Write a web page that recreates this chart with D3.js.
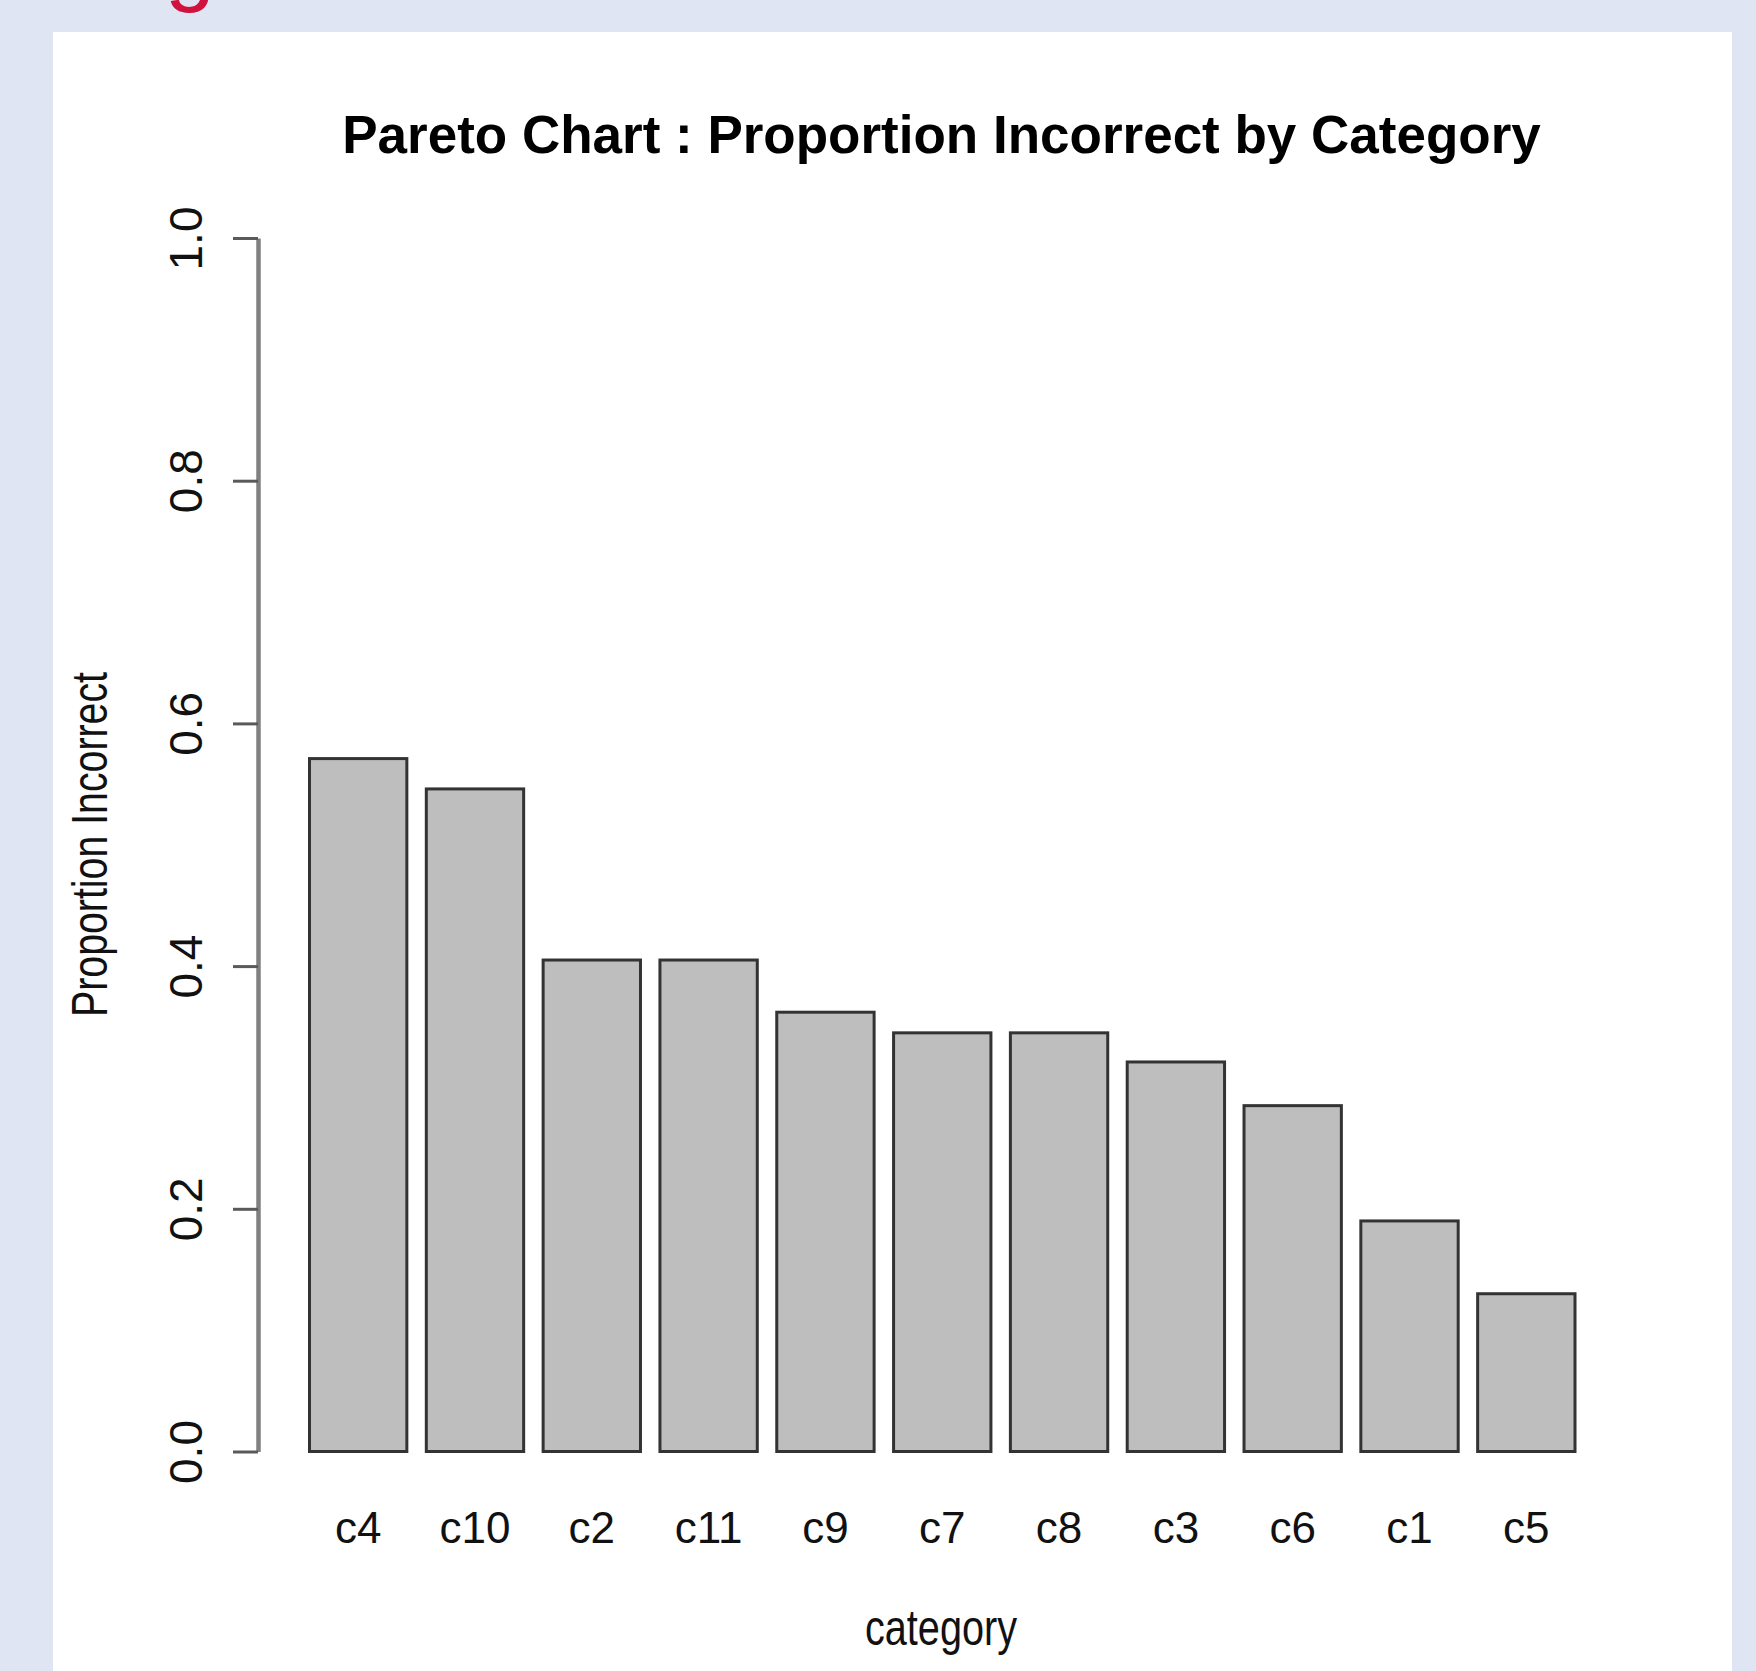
<!DOCTYPE html>
<html>
<head>
<meta charset="utf-8">
<script src="https://cdn.jsdelivr.net/npm/d3@7"></script>
<style>
  html, body { margin: 0; padding: 0; background: #dfe5f2; }
  svg { display: block; }
  text { font-family: "Liberation Sans", Arial, Helvetica, sans-serif; }
</style>
</head>
<body>
<script>
// Pareto ordering: categories sorted by proportion incorrect, largest first
const categories = ["c4", "c10", "c2", "c11", "c9", "c7", "c8", "c3", "c6", "c1", "c5"];
const proportions = [0.571, 0.546, 0.405, 0.405, 0.362, 0.345, 0.345, 0.321, 0.285, 0.190, 0.130];
const yTicks = [0, 0.2, 0.4, 0.6, 0.8, 1.0];

const chartTitle = "Pareto Chart : Proportion Incorrect by Category";
const xTitle = "category";
const yTitle = "Proportion Incorrect";

const W = 1756, H = 1671;
const svg = d3.select("body").append("svg").attr("width", W).attr("height", H);

// page background and white plot card
svg.append("rect").attr("width", W).attr("height", H).attr("fill", "#dfe5f2");
svg.append("text")
  .attr("x", 165).attr("y", -6)
  .attr("font-size", 90)
  .attr("fill", "#d1123f")
  .text("g");
svg.append("rect").attr("x", 53).attr("y", 32).attr("width", 1732 - 53).attr("height", H - 32).attr("fill", "#ffffff");

const data = categories.map((c, i) => ({ cat: c, value: proportions[i] }));

const x = d3.scaleBand()
  .domain(categories)
  .range([309.5, 1575])
  .paddingInner(0.2 / 1.2)
  .paddingOuter(0);

const y = d3.scaleLinear().domain([0, 1]).range([1451.5, 238]);

// bars
svg.append("g").selectAll("rect")
  .data(data)
  .join("rect")
  .attr("x", d => x(d.cat))
  .attr("y", d => y(d.value))
  .attr("width", x.bandwidth())
  .attr("height", d => y(0) - y(d.value))
  .attr("fill", "#bebebe")
  .attr("stroke", "#333333")
  .attr("stroke-width", 3);

// y axis (R style: line spans the tick range, rotated labels)
const yAxis = d3.axisLeft(y)
  .tickValues(yTicks)
  .tickFormat(d3.format(".1f"))
  .tickSize(25)
  .tickSizeOuter(0)
  .tickPadding(0);

const gy = svg.append("g").attr("transform", "translate(258,0)").call(yAxis);
gy.select(".domain").attr("stroke", "#808080").attr("stroke-width", 4.5);
gy.selectAll(".tick line").attr("stroke", "#5a5a5a").attr("stroke-width", 3);
gy.selectAll(".tick text")
  .attr("x", null).attr("dy", null)
  .attr("text-anchor", "middle")
  .attr("transform", "translate(-56,0) rotate(-90)")
  .attr("font-size", 46)
  .attr("fill", "#111");

// x category labels
const xAxis = d3.axisBottom(x).tickSize(0).tickPadding(0);
const gx = svg.append("g").attr("transform", "translate(0,1543)").call(xAxis);
gx.select(".domain").remove();
gx.selectAll(".tick text")
  .attr("y", 0).attr("dy", null)
  .attr("font-size", 44)
  .attr("fill", "#111");

// titles
svg.append("text")
  .attr("x", 941.5).attr("y", 153)
  .attr("text-anchor", "middle")
  .attr("font-size", 53)
  .attr("font-weight", "bold")
  .attr("fill", "#000")
  .text(chartTitle);

svg.append("text")
  .attr("x", 941).attr("y", 1645)
  .attr("text-anchor", "middle")
  .attr("font-size", 50)
  .attr("textLength", 152)
  .attr("lengthAdjust", "spacingAndGlyphs")
  .attr("fill", "#111")
  .text(xTitle);

svg.append("text")
  .attr("transform", "translate(107,844.5) rotate(-90)")
  .attr("text-anchor", "middle")
  .attr("font-size", 50)
  .attr("textLength", 345)
  .attr("lengthAdjust", "spacingAndGlyphs")
  .attr("fill", "#111")
  .text(yTitle);
</script>
</body>
</html>
